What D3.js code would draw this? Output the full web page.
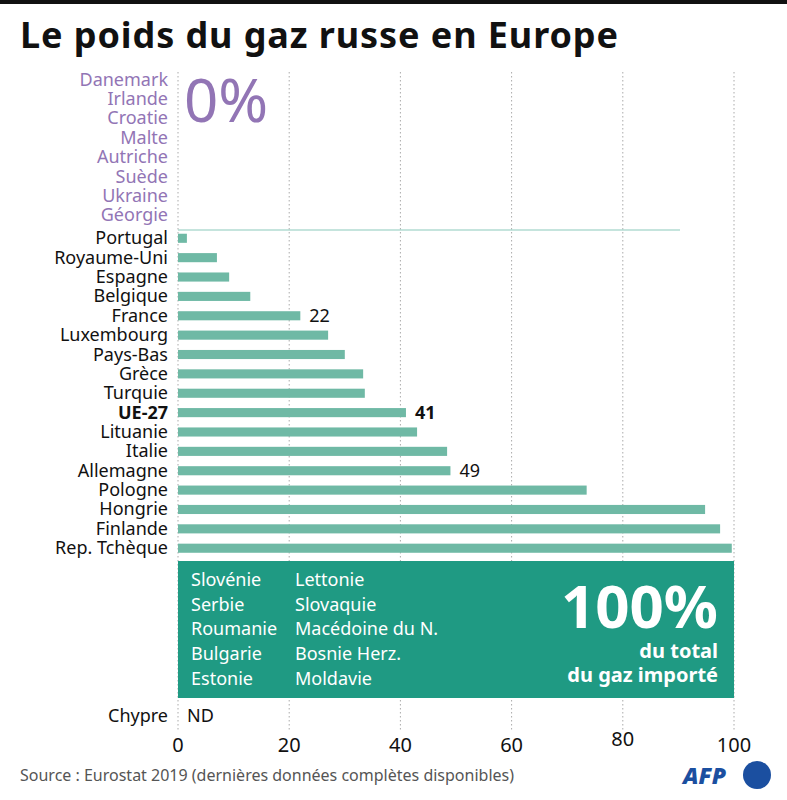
<!DOCTYPE html>
<html><head><meta charset="utf-8">
<script src="https://cdn.jsdelivr.net/npm/d3@7"></script>
<style>body{margin:0;background:#fff}svg{font-family:"Source Sans Pro","Noto Sans",sans-serif}</style>
</head><body><svg id="c" width="787" height="800"></svg>
<script>
var zeroCountries = ['Danemark','Irlande','Croatie','Malte','Autriche','Suède','Ukraine','Géorgie'];
var countries = ['Portugal','Royaume-Uni','Espagne','Belgique','France','Luxembourg','Pays-Bas','Grèce','Turquie','UE-27','Lituanie','Italie','Allemagne','Pologne','Hongrie','Finlande','Rep. Tchèque'];
var values = [1.6,7,9.2,13,22,27,30,33.3,33.6,41,43,48.4,49,73.5,94.8,97.5,99.6];
var labelled = {'France':'22','UE-27':'41','Allemagne':'49'};
var fullCol1 = ['Slovénie','Serbie','Roumanie','Bulgarie','Estonie'];
var fullCol2 = ['Lettonie','Slovaquie','Macédoine du N.','Bosnie Herz.','Moldavie'];
var ticks = [0,20,40,60,80,100];

var bar_color = '#6fb9a5';
var box_color = '#1f9a83';
var purple = '#9275b5';

var svg = d3.select('#c');
var x = d3.scaleLinear().domain([0,100]).range([178,734]);
var y = d3.scaleBand().domain(countries).range([228.5,558]).paddingInner(0.53).paddingOuter(0.27);
var yz = d3.scaleBand().domain(zeroCountries).range([70,225]);

svg.append('rect').attr('x',0).attr('y',0).attr('width',787).attr('height',4).attr('fill','#111');
svg.append('text').attr('x',20).attr('y',48).attr('font-size',36).attr('font-weight','bold').attr('fill','#111').attr('textLength',598).text('Le poids du gaz russe en Europe');

// grid
svg.append('g').selectAll('line').data(ticks).join('line')
  .attr('x1',d=>x(d)).attr('x2',d=>x(d)).attr('y1',72).attr('y2',730)
  .attr('stroke','#aaa').attr('stroke-dasharray','1.5,2.5');

// zero countries
svg.append('g').selectAll('text').data(zeroCountries).join('text')
  .attr('x',168).attr('y',d=>yz(d)+yz.bandwidth()/2+6).attr('text-anchor','end')
  .attr('font-size',18).attr('fill',purple).text(d=>d);
svg.append('text').attr('x',184).attr('y',122).attr('font-size',60).attr('fill',purple).text('0%');
svg.append('line').attr('x1',x(0)).attr('x2',680).attr('y1',230).attr('y2',230).attr('stroke','#8cc9bb').attr('stroke-width',1.2);

// bars
svg.append('g').selectAll('rect').data(countries).join('rect')
  .attr('x',x(0)).attr('y',d=>y(d)).attr('height',y.bandwidth())
  .attr('width',(d,i)=>x(values[i])-x(0)).attr('fill',bar_color);
svg.append('g').selectAll('text').data(countries).join('text')
  .attr('x',168).attr('y',d=>y(d)+y.bandwidth()/2+6).attr('text-anchor','end')
  .attr('font-size',18).attr('fill','#111').attr('font-weight',d=>d==='UE-27'?'bold':'normal').text(d=>d);
svg.append('g').selectAll('text').data(countries.filter(d=>labelled[d])).join('text')
  .attr('x',d=>x(values[countries.indexOf(d)])+9).attr('y',d=>y(d)+y.bandwidth()/2+6)
  .attr('font-size',18).attr('fill','#111').attr('font-weight',d=>d==='UE-27'?'bold':'normal').text(d=>labelled[d]);

// 100% box
svg.append('rect').attr('x',x(0)).attr('y',561).attr('width',x(100)-x(0)).attr('height',137).attr('fill',box_color);
svg.append('g').selectAll('text').data(fullCol1).join('text')
  .attr('x',191).attr('y',(d,i)=>586+i*24.7).attr('font-size',18).attr('fill','#fff').text(d=>d);
svg.append('g').selectAll('text').data(fullCol2).join('text')
  .attr('x',295).attr('y',(d,i)=>586+i*24.7).attr('font-size',18).attr('fill','#fff').text(d=>d);
svg.append('text').attr('x',718).attr('y',628).attr('text-anchor','end').attr('font-size',60).attr('font-weight','bold').attr('fill','#fff').text('100%');
svg.append('text').attr('x',718).attr('y',658).attr('text-anchor','end').attr('font-size',20).attr('font-weight','bold').attr('fill','#fff').text('du total');
svg.append('text').attr('x',718).attr('y',682).attr('text-anchor','end').attr('font-size',20).attr('font-weight','bold').attr('fill','#fff').text('du gaz importé');

svg.append('text').attr('x',168).attr('y',722).attr('text-anchor','end').attr('font-size',18).attr('fill','#111').text('Chypre');
svg.append('text').attr('x',187).attr('y',722).attr('font-size',18).attr('fill','#111').text('ND');

// axis
svg.append('g').selectAll('text').data(ticks).join('text')
  .attr('x',d=>x(d)).attr('y',d=>d===80?746:752).attr('text-anchor','middle').attr('font-size',20).attr('fill','#111').text(d=>d);

svg.append('text').attr('x',20).attr('y',781).attr('font-size',16).attr('fill','#555').text('Source : Eurostat 2019 (dernières données complètes disponibles)');
svg.append('text').attr('x',683).attr('y',784).attr('font-size',23).attr('font-weight','900').attr('font-style','italic').attr('fill','#1b4fa0').text('AFP');
svg.append('circle').attr('cx',757).attr('cy',775).attr('r',14).attr('fill','#1b4fa0');
</script></body></html>
